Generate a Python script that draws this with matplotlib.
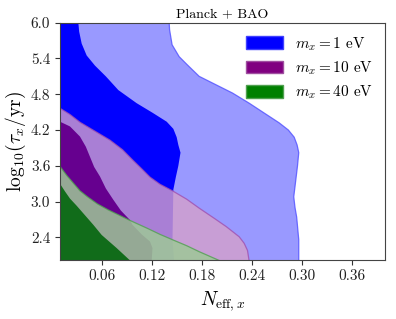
import numpy as np
import matplotlib
matplotlib.use("Agg")
import matplotlib.pyplot as plt
from matplotlib.patches import Patch

plt.rcParams['font.family'] = 'serif'
plt.rcParams['font.serif'] = ['cmr10', 'DejaVu Serif']
plt.rcParams['mathtext.fontset'] = 'cm'
plt.rcParams['axes.formatter.use_mathtext'] = True

# ---- data: contour boundaries (x as function of y) ----
XMIN, XMAX = 0.01, 0.40
YMIN, YMAX = 2.02, 6.0

# m_x = 1 eV
blue2_y = [6.0, 5.88, 5.63, 5.43, 5.29, 5.10, 4.82, 4.65, 4.32, 4.20, 4.08, 3.95, 3.82, 3.60, 3.31, 3.08, 2.90, 2.74, 2.36, 2.0]
blue2_x = [0.141, 0.1415, 0.1445, 0.153, 0.163, 0.177, 0.217, 0.237, 0.273, 0.284, 0.291, 0.2945, 0.2965, 0.295, 0.2925, 0.2905, 0.292, 0.294, 0.2965, 0.2965]
blue1_y = [6.0, 5.85, 5.65, 5.45, 5.28, 5.10, 4.87, 4.65, 4.49, 4.34, 4.22, 4.08, 3.95, 3.82, 3.60, 3.41, 3.20, 2.36, 2.0]
blue1_x = [0.032, 0.033, 0.036, 0.042, 0.052, 0.065, 0.080, 0.102, 0.121, 0.138, 0.146, 0.150, 0.152, 0.1546, 0.152, 0.149, 0.146, 0.145, 0.147]

# m_x = 10 eV
purple2_y = [4.565, 4.46, 4.33, 4.18, 4.03, 3.87, 3.70, 3.55, 3.41, 3.29, 3.18, 3.04, 2.89, 2.72, 2.58, 2.41, 2.30, 2.18, 2.0]
purple2_x = [0.010, 0.022, 0.034, 0.052, 0.070, 0.085, 0.097, 0.108, 0.118, 0.130, 0.145, 0.162, 0.177, 0.195, 0.2095, 0.225, 0.231, 0.235, 0.237]
purple1_y = [4.34, 4.26, 4.09, 3.92, 3.75, 3.58, 3.42, 3.22, 3.03, 2.85, 2.69, 2.61, 2.45, 2.33, 2.22, 2.0]
purple1_x = [0.010, 0.022, 0.034, 0.041, 0.046, 0.051, 0.058, 0.065, 0.074, 0.083, 0.094, 0.097, 0.108, 0.118, 0.121, 0.120]

# m_x = 40 eV
green2_y = [3.59, 3.44, 3.31, 3.18, 3.08, 2.96, 2.86, 2.69, 2.55, 2.45, 2.36, 2.26, 2.16, 2.0]
green2_x = [0.010, 0.018, 0.026, 0.034, 0.043, 0.055, 0.068, 0.093, 0.115, 0.130, 0.145, 0.162, 0.177, 0.203]
green1_y = [3.30, 3.17, 3.05, 2.93, 2.77, 2.61, 2.44, 2.33, 2.22, 2.0]
green1_x = [0.010, 0.016, 0.022, 0.030, 0.040, 0.050, 0.060, 0.069, 0.078, 0.095]

labels = [r'$m_x = 1$ eV', r'$m_x = 10$ eV', r'$m_x = 40$ eV']
xticks = [0.06, 0.12, 0.18, 0.24, 0.30, 0.36]
yticks = [2.4, 3.0, 3.6, 4.2, 4.8, 5.4, 6.0]

fig = plt.figure(figsize=(3.96, 3.19), dpi=100)
ax = fig.add_axes([60/396, 1-260/319, 325/396, (260-22.7)/319])

def region(ys, xs, color, alpha, edge=None, z=1):
    ax.fill_betweenx(ys, XMIN - 0.05, xs, facecolor=color, alpha=alpha, lw=0, zorder=z)
    if edge is not None:
        ax.plot(xs, ys, color=edge, lw=0.9, alpha=0.8, zorder=z + 0.5)

region(blue2_y, blue2_x, '#0000ff', 0.4, edge='#5050ff', z=1)
region(blue1_y, blue1_x, '#0000ff', 1.0, z=2)
region(purple2_y, purple2_x, (212/255, 160/255, 203/255), 0.8, edge='#a050b0', z=3)
region(purple1_y, purple1_x, (102/255, 0, 143/255), 1.0, z=4)
region(green2_y, green2_x, (158/255, 200/255, 151/255), 0.85, edge='#50a050', z=5)
region(green1_y, green1_x, (17/255, 108/255, 26/255), 1.0, z=6)

ax.set_xlim(XMIN, XMAX)
ax.set_ylim(YMIN, YMAX)
ax.set_xticks(xticks)
ax.set_yticks(yticks)
ax.set_xticklabels([f'{v:.2f}' for v in xticks])
ax.set_yticklabels([f'{v:.1f}' for v in yticks])
ax.tick_params(labelsize=11, colors='#333333', labelcolor='#222222')
for s in ax.spines.values():
    s.set_color('#444444')
    s.set_zorder(10)

ax.set_xlabel(r'$N_{\rm eff,\it x}$', fontsize=14, labelpad=4)
ax.set_ylabel(r'${\rm log}_{10}(\tau_x/{\rm yr})$', fontsize=14, labelpad=2)
ax.set_title('Planck + BAO', fontsize=10, pad=4)

handles = [Patch(facecolor='#0000ff', edgecolor='#4040ff', alpha=1.0),
           Patch(facecolor='#800080', edgecolor='#a050a0'),
           Patch(facecolor='#008000', edgecolor='#50a050')]
ax.legend(handles, labels, loc='upper right', frameon=False, fontsize=11,
          handlelength=2.4, handleheight=0.9, labelspacing=0.45,
          borderaxespad=0.4, handletextpad=0.8)

fig.savefig('out.png', dpi=100)
